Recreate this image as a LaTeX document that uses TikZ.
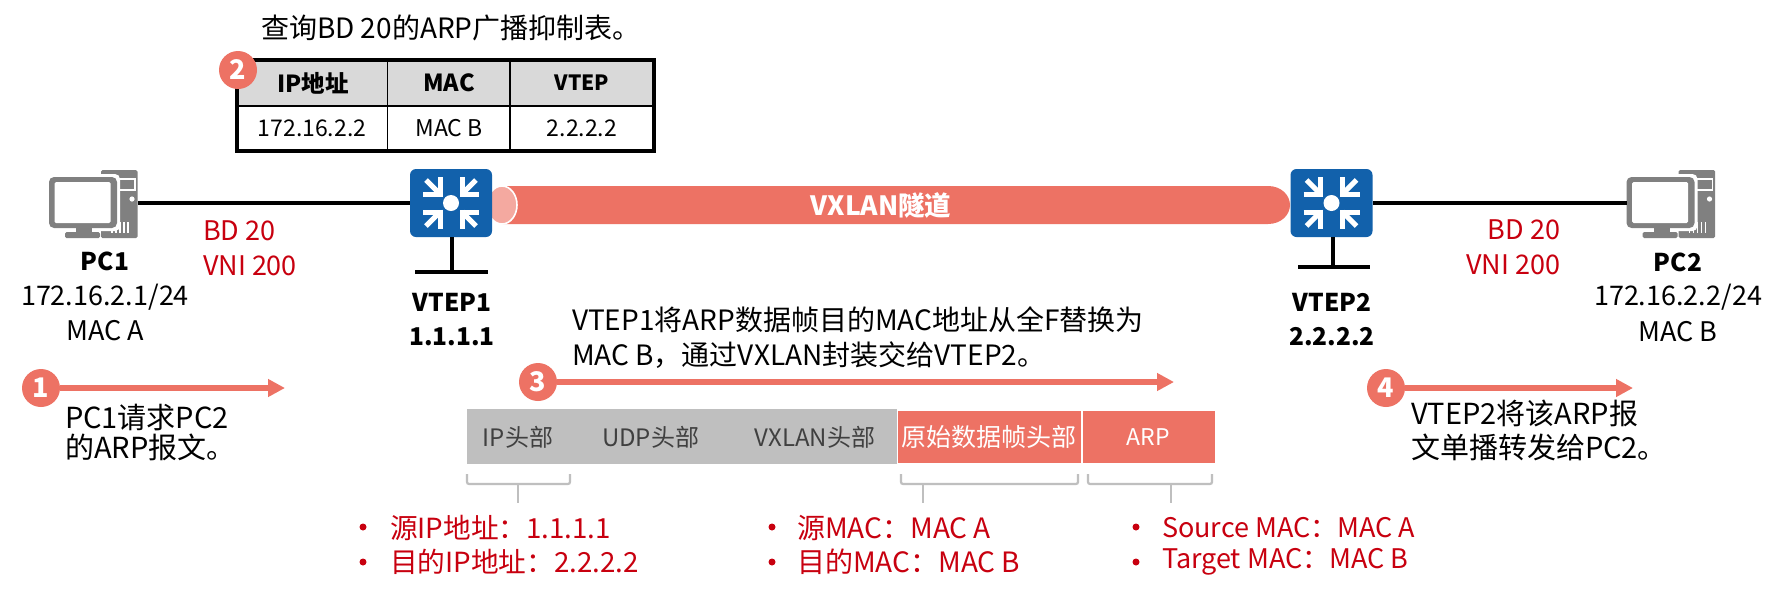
\documentclass[tikz,border=0pt]{standalone}
\usepackage{fontspec}
\setmainfont{Noto Sans CJK SC}
\usetikzlibrary{arrows.meta}
\definecolor{salmon}{HTML}{ED7264}
\definecolor{salmonl}{HTML}{F4A9A0}
\definecolor{swblue}{HTML}{1261AB}
\definecolor{pcgray}{HTML}{808080}
\definecolor{darkred}{HTML}{C8000F}
\definecolor{bargray}{HTML}{BFBFBF}
\definecolor{hdrgray}{HTML}{D9D9D9}
\newcommand{\fs}[1]{\fontsize{#1}{#1}\selectfont}
\tikzset{
  txt/.style={inner sep=0pt,outer sep=0pt,text=black,font=\fs{27}},
  txtb/.style={inner sep=0pt,outer sep=0pt,text=black,font=\fs{24.5}\bfseries},
  redt/.style={inner sep=0pt,outer sep=0pt,text=darkred,font=\fs{27},anchor=west},
  redbul/.style={circle,fill=darkred,minimum size=7pt,inner sep=0pt,outer sep=0pt},
  lefttxt/.style={txt,anchor=west},
  badge/.style={circle,fill=salmon,minimum size=38pt,inner sep=0pt,outer sep=0pt,text=white,font=\fs{27}\bfseries},
  flow/.style={draw=salmon,line width=6pt,-{Triangle[length=17pt,width=17pt,fill=salmon]}},
  link/.style={draw=black,line width=3.2pt},
  hole/.style={inner sep=0pt,outer sep=0pt},
  tcell/.style={txt,font=\fs{23}},
  thead/.style={txt,font=\fs{23.5}\bfseries},
  barl/.style={inner sep=0pt,outer sep=0pt,text=black!75,font=\fs{24}},
  barw/.style={inner sep=0pt,outer sep=0pt,text=white,font=\fs{25}},
  brk/.style={draw=bargray,line width=2.2pt,rounded corners=2pt},
}
\newcommand{\swicon}[2]{%
  \begin{scope}[shift={(#1,#2)}]
    \fill[swblue,rounded corners=6pt] (-41,-34) rectangle (41,34);
    \fill[white] (0,0) circle (8);
    \foreach \sx/\sy in {1/1,-1/1,1/-1,-1/-1}{
      \begin{scope}[xscale=\sx,yscale=\sy]
        \draw[white,line width=5pt] (-28,-9) -- (-8.5,-9);
        \draw[white,line width=5pt] (-11,-6.5) -- (-11,-26);
        \draw[white,line width=5pt] (-25,-23) -- (-13,-11);
      \end{scope}
    }
  \end{scope}}
\newcommand{\pcicon}[1]{%
  \begin{scope}[shift={(#1,0)}]
    \fill[pcgray,rounded corners=1.5pt] (101,170) rectangle (137.5,238);
    \draw[white,line width=1.4pt] (117,179) rectangle (135,190);
    \fill[white] (132,199) circle (2.6);
    \foreach \vx in {112,116,120,124,128}{\draw[white,line width=1.2pt] (\vx,222) -- (\vx,233);}
    \fill[white,rounded corners=5pt] (46,174) rectangle (120,231);
    \fill[pcgray,rounded corners=5pt] (49,177) rectangle (117,228);
    \fill[white,rounded corners=1.5pt] (54.5,182) rectangle (110.7,223);
    \fill[pcgray] (76,228) rectangle (92,233);
    \fill[pcgray,rounded corners=1.5pt] (65,232) rectangle (100,238);
  \end{scope}}
\begin{document}
\begin{tikzpicture}[x=1pt,y=-1pt]
\useasboundingbox (0,0) rectangle (1783,598);
\fill[white] (0,0) rectangle (1783,598);

% title
\node[lefttxt,font=\fs{28}] (title) at (261,28) {查询BD 20的ARP广播抑制表。};

% table
\fill[hdrgray] (237,60) rectangle (654,105.7);
\node[hole,minimum width=417pt,minimum height=91pt] (tbl) at (445.5,105.5) {};
\draw[black,line width=1.6pt] (237,105.7) -- (654,105.7);
\draw[black,line width=1.6pt] (387.5,60) -- (387.5,151);
\draw[black,line width=1.6pt] (510,60) -- (510,151);
\draw[black,line width=4pt] (237,60) rectangle (654,151);
\node[thead] (h1) at (313,83) {IP地址};
\node[thead] (h2) at (449,83) {MAC};
\node[thead,font=\fs{21}\bfseries] (h3) at (582,83) {VTEP};
\node[tcell] (c1) at (312,128) {172.16.2.2};
\node[tcell] (c2) at (449,128) {MAC B};
\node[tcell] (c3) at (582,128) {2.2.2.2};
\node[badge] (b2) at (238,70) {2};

% tunnel
\fill[salmon,rounded corners=0pt] (502,186) -- (1268,186) .. controls (1281,186) and (1290,195) .. (1290,205) .. controls (1290,215) and (1281,224) .. (1268,224) -- (502,224) -- cycle;
\draw[white,line width=1.6pt,fill=salmonl] (502,205) ellipse (15 and 19);
\node[hole,text=white,font=\fs{26.5}\bfseries] (tun) at (881,205) {VXLAN隧道};

% devices
\node[hole,minimum width=89pt,minimum height=66pt] (pc1) at (93.5,203) {};
\pcicon{0}
\node[hole,minimum width=89pt,minimum height=66pt] (pc2) at (1671,203) {};
\pcicon{1577.5}
\node[hole,minimum width=82pt,minimum height=68pt] (vtep1) at (451,203) {};
\swicon{451}{203}
\node[hole,minimum width=83pt,minimum height=68pt] (vtep2) at (1331.5,203) {};
\swicon{1331.5}{203}

\draw[link] (pc1.east) -- (vtep1.west);
\draw[link] (vtep2.east) -- (pc2.west);

\coordinate (s1) at (452,272);
\coordinate (s1l) at (415,272);
\coordinate (s1r) at (488,272);
\draw[link] (vtep1.south -| s1) -- (s1);
\draw[link] (s1l) -- (s1r);
\coordinate (s2) at (1333,267);
\coordinate (s2l) at (1298,267);
\coordinate (s2r) at (1370,267);
\draw[link] (vtep2.south -| s2) -- (s2);
\draw[link] (s2l) -- (s2r);

% device labels
\node[txtb] (l1) at (105,261) {PC1};
\node[txt] (l2) at (105,297) {172.16.2.1/24};
\node[txt] (l3) at (105,331) {MAC A};
\node[redt] (r1) at (203,231) {BD 20};
\node[redt] (r2) at (203,266) {VNI 200};
\node[txtb] (v1) at (452,302) {VTEP1};
\node[txtb] (v2) at (452,337) {1.1.1.1};
\node[txtb] (v3) at (1332,302) {VTEP2};
\node[txtb] (v4) at (1332,337) {2.2.2.2};
\node[redt,anchor=east] (r3) at (1560,230) {BD 20};
\node[redt,anchor=east] (r4) at (1560,265) {VNI 200};
\node[txtb] (p1) at (1678,262) {PC2};
\node[txt] (p2) at (1678,297) {172.16.2.2/24};
\node[txt] (p3) at (1678,332) {MAC B};

% step 3 text
\node[lefttxt,font=\fs{28}] (t3a) at (572,320) {VTEP1将ARP数据帧目的MAC地址从全F替换为};
\node[lefttxt,font=\fs{28}] (t3b) at (572,355) {MAC B，通过VXLAN封装交给VTEP2。};

% flows
\node[badge] (b1) at (41,388) {1};
\coordinate (e1) at (285,388);
\draw[flow] (b1) -- (e1);
\node[badge] (b3) at (538,382) {3};
\coordinate (e3) at (1174,382);
\draw[flow] (b3) -- (e3);
\node[badge] (b4) at (1386,388) {4};
\coordinate (e4) at (1633,388);
\draw[flow] (b4) -- (e4);

\node[lefttxt,font=\fs{29}] (t1a) at (65,417) {PC1请求PC2};
\node[lefttxt,font=\fs{29}] (t1b) at (65,447) {的ARP报文。};
\node[lefttxt,font=\fs{29}] (t4a) at (1411,413) {VTEP2将该ARP报};
\node[lefttxt,font=\fs{29}] (t4b) at (1411,447) {文单播转发给PC2。};

% packet
\fill[bargray] (467,409) rectangle (897,464);
\fill[salmon] (898,411) rectangle (1080.5,463);
\fill[salmon] (1083,411) rectangle (1215,463);
\node[barl] (f1) at (518,437) {IP头部};
\node[barl] (f2) at (650.5,437) {UDP头部};
\node[barl] (f3) at (815,437) {VXLAN头部};
\node[barw] (f4) at (989,437) {原始数据帧头部};
\node[barw,font=\fs{23}] (f5) at (1148,437) {ARP};

% brackets
\draw[brk] (467,474) -- (467,484) -- (570,484) -- (570,474);
\draw[brk,rounded corners=0pt] (518,484) -- (518,503);
\draw[brk] (901,474) -- (901,484) -- (1078,484) -- (1078,474);
\draw[brk,rounded corners=0pt] (923,484) -- (923,503);
\draw[brk] (1088,474) -- (1088,484) -- (1212,484) -- (1212,474);
\draw[brk,rounded corners=0pt] (1171,484) -- (1171,503);

% bullets
\node[redbul] (d1) at (363,527) {};
\node[redbul] (d2) at (363,562) {};
\node[redt,font=\fs{27.7}] (x1) at (390,528) {源IP地址：1.1.1.1};
\node[redt,font=\fs{27.7}] (x2) at (390,562) {目的IP地址：2.2.2.2};
\node[redbul] (d3) at (772,527) {};
\node[redbul] (d4) at (772,562) {};
\node[redt,font=\fs{28}] (x3) at (797,528) {源MAC：MAC A};
\node[redt,font=\fs{28}] (x4) at (797,562) {目的MAC：MAC B};
\node[redbul] (d5) at (1136,527) {};
\node[redbul] (d6) at (1136,562) {};
\node[redt] (x5) at (1162,528) {Source MAC：MAC A};
\node[redt] (x6) at (1162,562) {Target MAC：MAC B};
\end{tikzpicture}
\end{document}
